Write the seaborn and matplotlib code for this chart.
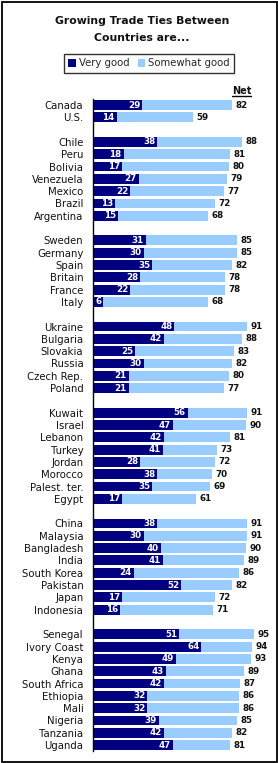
import matplotlib
matplotlib.use("Agg")
import matplotlib.pyplot as plt
import seaborn as sns
import pandas as pd
from matplotlib.patches import Patch, Rectangle
from matplotlib.lines import Line2D

# Data
countries = ["Canada", "U.S.",
             "Chile", "Peru", "Bolivia", "Venezuela", "Mexico", "Brazil", "Argentina",
             "Sweden", "Germany", "Spain", "Britain", "France", "Italy",
             "Ukraine", "Bulgaria", "Slovakia", "Russia", "Czech Rep.", "Poland",
             "Kuwait", "Israel", "Lebanon", "Turkey", "Jordan", "Morocco", "Palest. ter.", "Egypt",
             "China", "Malaysia", "Bangladesh", "India", "South Korea", "Pakistan", "Japan", "Indonesia",
             "Senegal", "Ivory Coast", "Kenya", "Ghana", "South Africa", "Ethiopia", "Mali",
             "Nigeria", "Tanzania", "Uganda"]
very_good = [29, 14,
             38, 18, 17, 27, 22, 13, 15,
             31, 30, 35, 28, 22, 6,
             48, 42, 25, 30, 21, 21,
             56, 47, 42, 41, 28, 38, 35, 17,
             38, 30, 40, 41, 24, 52, 17, 16,
             51, 64, 49, 43, 42, 32, 32, 39, 42, 47]
net = [82, 59,
       88, 81, 80, 79, 77, 72, 68,
       85, 85, 82, 78, 78, 68,
       91, 88, 83, 82, 80, 77,
       91, 90, 81, 73, 72, 70, 69, 61,
       91, 91, 90, 89, 86, 82, 72, 71,
       95, 94, 93, 89, 87, 86, 86, 85, 82, 81]
group_sizes = [2, 7, 6, 6, 8, 8, 10]

DARK = "#000080"
LIGHT = "#99CCFF"

df = pd.DataFrame({"Country": countries, "Very good": very_good, "Net": net})

# category order with blank spacer rows between regions
order = []
i = 0
for g, size in enumerate(group_sizes):
    if g > 0:
        order.append(" " * g)
    order.extend(countries[i:i + size])
    i += size

sns.set_theme(style="white")
plt.rcParams["font.family"] = ["DejaVu Sans"]

fig = plt.figure(figsize=(2.78, 7.63), dpi=100)
W, H = 278, 763
top_px, bot_px = 98.85, 751.2
ax = fig.add_axes([93 / W, 1 - bot_px / H, 176.3 / W, (bot_px - top_px) / H])

sns.barplot(data=df, y="Country", x="Net", order=order, color=LIGHT,
            width=0.8, saturation=1, linewidth=0, ax=ax, orient="h")
sns.barplot(data=df, y="Country", x="Very good", order=order, color=DARK,
            width=0.8, saturation=1, linewidth=0, ax=ax, orient="h")

ax.set_xlim(0, 104)
ax.set_ylim(len(order) - 0.5, -0.5)
ax.set_xlabel("")
ax.set_ylabel("")
ax.set_xticks([])
for s in ["top", "right", "bottom"]:
    ax.spines[s].set_visible(False)
ax.spines["left"].set_color("black")
ax.spines["left"].set_linewidth(1.0)
ax.tick_params(axis="y", length=0, pad=7, labelsize=7.3, labelcolor="#111111")
ax.patch.set_alpha(0)

# net labels after the light bars
ax.bar_label(ax.containers[0], fmt="{:.0f}", padding=2.5, fontsize=6.3,
             fontweight="bold", color="#111111")
# very good labels inside the dark bars
for bar in ax.containers[1]:
    w = bar.get_width()
    ax.text(w - 1.2, bar.get_y() + bar.get_height() / 2, f"{w:.0f}",
            ha="right", va="center", color="white", fontsize=6.3, fontweight="bold")

# title
fig.text(142 / W, 1 - 20.7 / H, "Growing Trade Ties Between", ha="center", va="center",
         fontsize=7.8, fontweight="bold", color="#111111")
fig.text(142 / W, 1 - 38 / H, "Countries are...", ha="center", va="center",
         fontsize=7.8, fontweight="bold", color="#111111")

# legend
handles = [Patch(facecolor=DARK, edgecolor="none", label="Very good"),
           Patch(facecolor=LIGHT, edgecolor="none", label="Somewhat good")]
leg = fig.legend(handles=handles, loc="center", bbox_to_anchor=(149 / W, 1 - 63.5 / H),
                 ncol=2, frameon=True, fancybox=False, edgecolor="black",
                 fontsize=7.3, handlelength=0.75, handleheight=0.75, handletextpad=0.3,
                 columnspacing=0.8, borderpad=0.45, borderaxespad=0)
leg.get_frame().set_linewidth(1.0)

# "Net" header with underline
fig.text(241.5 / W, 1 - 90.5 / H, "Net", ha="center", va="center",
         fontsize=7, fontweight="bold", color="#111111")
fig.add_artist(Line2D([232 / W, 251 / W], [1 - 96.3 / H, 1 - 96.3 / H],
                      color="black", linewidth=1.0, transform=fig.transFigure))

# outer border
fig.add_artist(Rectangle((1.5 / W, 1.5 / H), 275 / W, 759.5 / H, fill=False,
                         edgecolor="black", linewidth=1.3, transform=fig.transFigure))

fig.savefig("out.png", dpi=100)
